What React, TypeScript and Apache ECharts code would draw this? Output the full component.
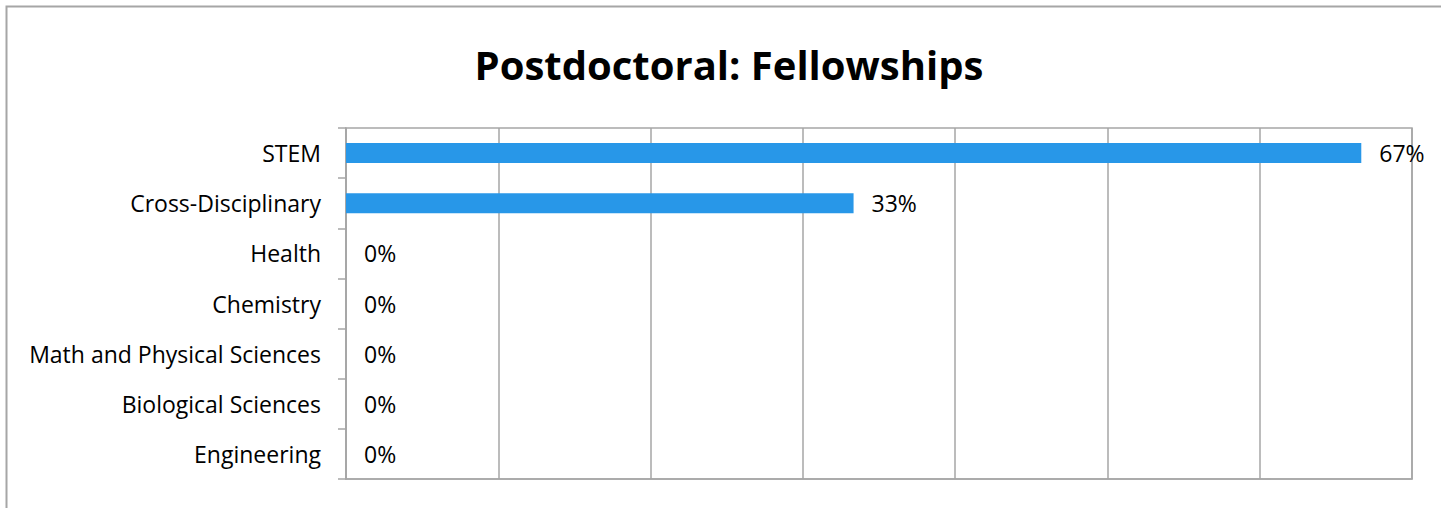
import React, { useEffect, useRef } from "react";
import * as echarts from "echarts";

const titleText = "Postdoctoral: Fellowships";
const categories = [
  "STEM",
  "Cross-Disciplinary",
  "Health",
  "Chemistry",
  "Math and Physical Sciences",
  "Biological Sciences",
  "Engineering",
];
const shares = [0.6667, 0.3333, 0, 0, 0, 0, 0];
const axisMin = 0;
const axisMax = 0.7;
const axisStep = 0.1;

const FONT = "'Open Sans', sans-serif";
const GRID_COLOR = "#a6a6a6";

export default function App() {
  const ref = useRef<HTMLDivElement>(null);
  useEffect(() => {
    document.body.style.margin = "0";
    if (!ref.current) return;
    const chart = echarts.init(ref.current, undefined, { renderer: "svg" });
    chart.setOption({
      animation: false,
      backgroundColor: "#ffffff",
      title: {
        text: titleText,
        left: 724,
        top: 39,
        textAlign: "center",
        textStyle: {
          fontFamily: FONT,
          fontWeight: "bold",
          fontSize: 40,
          color: "#000000",
        },
      },
      graphic: [
        {
          type: "rect",
          shape: { x: 6.5, y: 6.5, width: 1600, height: 700 },
          style: { fill: "none", stroke: "#a6a6a6", lineWidth: 2 },
          silent: true,
        },
      ],
      grid: {
        left: 346,
        right: 29,
        top: 128,
        bottom: 29,
        show: true,
        borderColor: GRID_COLOR,
        borderWidth: 1.5,
        containLabel: false,
      },
      xAxis: {
        type: "value",
        min: axisMin,
        max: axisMax,
        interval: axisStep,
        axisLabel: { show: false },
        axisTick: { show: false },
        axisLine: { show: true, lineStyle: { color: GRID_COLOR, width: 1.5 } },
        splitLine: { show: true, lineStyle: { color: GRID_COLOR, width: 1.5 } },
      },
      yAxis: {
        type: "category",
        data: categories,
        inverse: true,
        axisLine: { show: true, lineStyle: { color: GRID_COLOR, width: 1.5 } },
        axisTick: { show: true, length: 8, lineStyle: { color: GRID_COLOR, width: 1.5 } },
        axisLabel: {
          fontFamily: FONT,
          fontSize: 23,
          color: "#000000",
          margin: 25,
          padding: [5, 0, 0, 0],
        },
        splitLine: { show: false },
      },
      series: [
        {
          type: "bar",
          data: shares,
          barWidth: 20,
          itemStyle: { color: "#2897e8" },
          label: {
            show: true,
            position: "right",
            distance: 18,
            fontFamily: FONT,
            fontSize: 23,
            color: "#000000",
            padding: [5, 0, 0, 0],
            formatter: (p: any) => Math.round(p.value * 100) + "%",
          },
        },
      ],
    });
    return () => chart.dispose();
  }, []);
  return <div ref={ref} style={{ width: 1441, height: 508 }} />;
}
